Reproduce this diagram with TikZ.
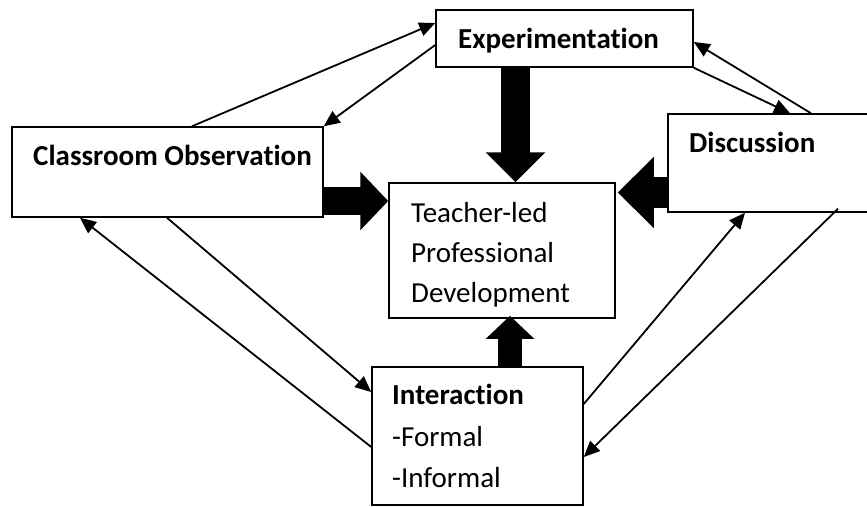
\documentclass[tikz,border=0pt]{standalone}
\usepackage{fontspec}
\setmainfont{Carlito}[Ligatures=NoCommon]
\usetikzlibrary{arrows.meta}
\tikzset{
  box/.style={draw, line width=1.5pt, fill=white, inner sep=0pt},
  lbl/.style={anchor=base west, inner sep=0pt, font=\fontsize{29}{40}\selectfont},
  thin/.style={line width=1.8pt, -{Triangle[length=16pt,width=14pt]}},
}
\begin{document}
\begin{tikzpicture}[x=1pt,y=-1pt]
\useasboundingbox (0,0) rectangle (867,506);
% boxes
\node[box, minimum width=257pt, minimum height=57pt] (exp) at (564.5,38.5) {};
\node[box, minimum width=311pt, minimum height=90pt] (cls) at (167.5,172) {};
\node[box, minimum width=202pt, minimum height=98pt] (disc) at (769,163) {};
\node[box, minimum width=226pt, minimum height=135pt] (cen) at (502,250.5) {};
\node[box, minimum width=211pt, minimum height=138pt] (int) at (477.5,436) {};
% texts
\node[lbl] (texp) at (458,48) {\bfseries Experimentation};
\node[lbl] (tcls) at (33,165) {\bfseries Classroom Observation};
\node[lbl] (tdisc) at (689,152) {\bfseries Discussion};
\node[lbl] (tcen1) at (411,222) {Teacher-led};
\node[lbl] (tcen2) at (411,262) {Professional};
\node[lbl] (tcen3) at (411,302) {Development};
\node[lbl] (tint1) at (392,404) {\bfseries Interaction};
\node[lbl] (tint2) at (392,446) {-Formal};
\node[lbl] (tint3) at (392,487) {-Informal};
% block arrows
\draw[line width=29pt, -{Triangle[length=30pt,width=58pt]}] (exp.south -| 515.5,0) -- (cen.north -| 515.5,0);
\draw[line width=28pt, -{Triangle[length=28pt,width=57pt]}] (cls.east |- 0,201) -- (cen.west |- 0,201);
\draw[line width=31pt, -{Triangle[length=36pt,width=69pt]}] (disc.west |- 0,192.5) -- ([xshift=2pt]cen.east |- 0,192.5);
\draw[line width=24pt, -{Triangle[length=23pt,width=47pt]}] (int.north -| 510,0) -- ([yshift=3pt]cen.south -| 510,0);
% thin arrows
\draw[thin] (cls.north -| 192,0) -- (exp.west |- 0,23);
\draw[thin] (exp.west |- 0,45) -- (cls.north east);
\draw[thin] (exp.south east) -- (disc.north -| 790,0);
\draw[thin] (disc.north -| 811,0) -- (exp.east |- 0,42);
\draw[thin] (cls.south -| 167,0) -- (int.west |- 0,392);
\draw[thin] (int.west |- 0,447) -- (cls.south -| 80,0);
\draw[thin] (int.east |- 0,404) -- (disc.south -| 745,0);
\draw[thin] ([yshift=4pt]disc.south -| 838,0) -- (int.east |- 0,457);
\end{tikzpicture}
\end{document}
